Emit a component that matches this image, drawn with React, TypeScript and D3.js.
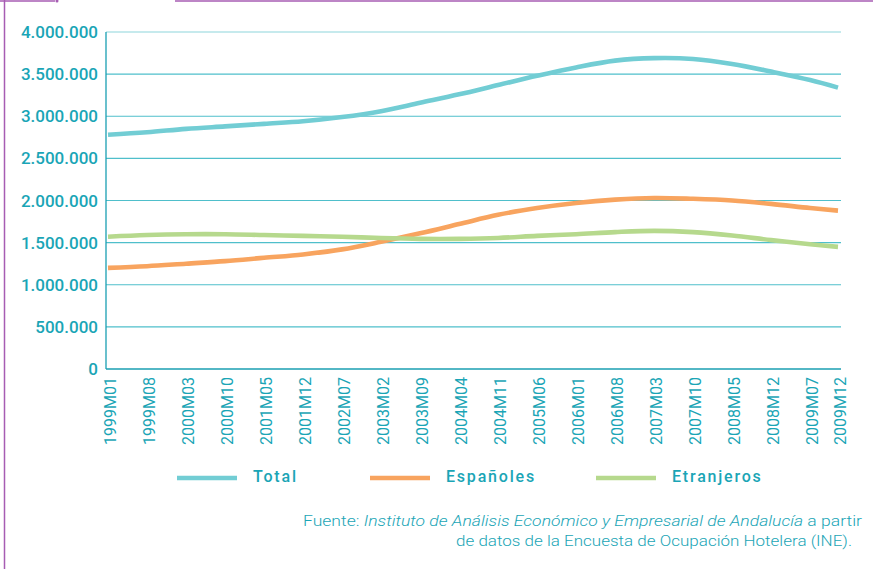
import React from "react";
import * as d3 from "d3";

const tickLabels = [
  "1999M01", "1999M08", "2000M03", "2000M10", "2001M05", "2001M12", "2002M07",
  "2003M02", "2003M09", "2004M04", "2004M11", "2005M06", "2006M01", "2006M08",
  "2007M03", "2007M10", "2008M05", "2008M12", "2009M07", "2009M12",
];

const total = [
  2780000, 2810000, 2850000, 2880000, 2910000, 2940000, 2990000, 3060000, 3160000, 3260000,
  3370000, 3480000, 3580000, 3660000, 3690000, 3680000, 3620000, 3530000, 3430000, 3340000,
];
const espanoles = [
  1200000, 1220000, 1250000, 1280000, 1320000, 1360000, 1420000, 1510000, 1610000, 1720000,
  1830000, 1910000, 1970000, 2010000, 2030000, 2020000, 2000000, 1960000, 1910000, 1880000,
];
const extranjeros = [
  1570000, 1590000, 1600000, 1600000, 1590000, 1580000, 1570000, 1555000, 1545000, 1545000,
  1555000, 1580000, 1600000, 1625000, 1640000, 1625000, 1585000, 1530000, 1480000, 1450000,
];

const yTicks = [0, 500000, 1000000, 1500000, 2000000, 2500000, 3000000, 3500000, 4000000];

const seriesNames = ["Total", "Españoles", "Etranjeros"];
const seriesColors = ["#72cdd4", "#f8a45f", "#b6d98d"];

const TEXT = "#1aa5b6";
const FONT = "Roboto, 'Liberation Sans', Arial, sans-serif";

function monthIndex(label: string) {
  const y = +label.slice(0, 4);
  const m = +label.slice(5);
  return (y - 1999) * 12 + (m - 1);
}

const fmt = (v: number) => d3.format(",")(v).replace(/,/g, ".");

export default function App() {
  const W = 873, H = 569;
  const x = d3.scaleLinear().domain([0, 131]).range([108, 838]);
  const y = d3.scaleLinear().domain([0, 4000000]).range([369, 32]);
  const idx = tickLabels.map(monthIndex);
  const allSeries = [total, espanoles, extranjeros];
  const line = d3
    .line<number>()
    .x((_, i) => x(idx[i]))
    .y((d) => y(d))
    .curve(d3.curveCatmullRom.alpha(0.5));

  const legendX = [177, 370, 596];

  return (
    <svg
      width={W}
      height={H}
      style={{ position: "absolute", left: 0, top: 0, display: "block", background: "#fff" }}
      fontFamily={FONT}
    >
      {/* frame */}
      <line x1={4.5} x2={4.5} y1={0} y2={H} stroke="#a75db3" strokeWidth={1.5} />
      <line x1={0} x2={55} y1={1} y2={1} stroke="#a75db3" strokeWidth={1.5} />
      <line x1={175} x2={W} y1={1} y2={1} stroke="#a75db3" strokeWidth={1.5} />
      <circle cx={57} cy={1} r={1.5} fill="#a75db3" />

      {/* grid */}
      {yTicks.map((t) => (
        <g key={t}>
          {t > 0 && (
            <line
              x1={106}
              x2={841}
              y1={y(t)}
              y2={y(t)}
              stroke={t === 4000000 ? "#8dd5dc" : "#4fbfcb"}
              strokeWidth={1.2}
            />
          )}
          <text
            x={98}
            y={y(t)}
            dy="0.36em"
            textAnchor="end"
            fontSize={17}
            fontWeight={500}
            fill={TEXT}
          >
            {fmt(t)}
          </text>
        </g>
      ))}
      {/* axes */}
      <line x1={106} x2={106} y1={32} y2={369} stroke="#1a9fb2" strokeWidth={1.3} />
      <line x1={106} x2={841} y1={369} y2={369} stroke="#1a9fb2" strokeWidth={1.3} />

      {/* x labels */}
      {tickLabels.map((l, i) => (
        <text
          key={l}
          transform={`translate(${x(idx[i]) + 2},${377}) rotate(-90)`}
          textAnchor="end"
          dy="0.36em"
          fontSize={16}
          fill={TEXT}
        >
          {l}
        </text>
      ))}

      {/* series */}
      {allSeries.map((s, k) => (
        <path
          key={k}
          d={line(s) || ""}
          fill="none"
          stroke={seriesColors[k]}
          strokeWidth={4.6}
          strokeLinecap="butt"
        />
      ))}

      {/* legend */}
      {seriesNames.map((n, k) => (
        <g key={n}>
          <line
            x1={legendX[k]}
            x2={legendX[k] + 60}
            y1={478}
            y2={478}
            stroke={seriesColors[k]}
            strokeWidth={4.6}
          />
          <text
            x={legendX[k] + 76}
            y={482}
            fontSize={16}
            fontWeight={500}
            fill={TEXT}
            letterSpacing={1.8}
          >
            {n}
          </text>
        </g>
      ))}

      {/* source */}
      <text
        x={303}
        y={526}
        fontSize={14.5}
        fontWeight={300}
        fill={TEXT}
        textLength={559}
        lengthAdjust="spacingAndGlyphs"
      >
        <tspan>Fuente: </tspan>
        <tspan fontStyle="italic">
          Instituto de Análisis Económico y Empresarial de Andalucía
        </tspan>
        <tspan> a partir</tspan>
      </text>
      <text
        x={456}
        y={546}
        fontSize={14.5}
        fontWeight={300}
        fill={TEXT}
        textLength={396}
        lengthAdjust="spacingAndGlyphs"
      >
        de datos de la Encuesta de Ocupación Hotelera (INE).
      </text>
    </svg>
  );
}
